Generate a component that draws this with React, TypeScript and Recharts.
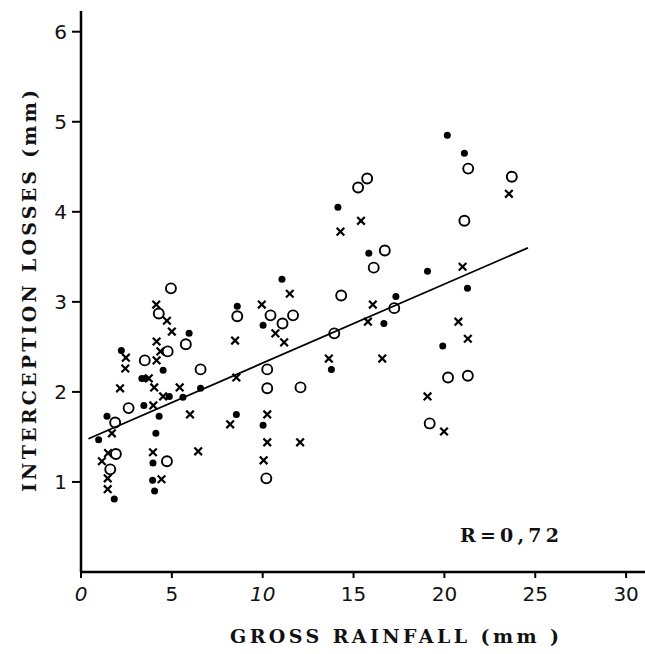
import React from 'react';
import { ScatterChart, Scatter, XAxis, YAxis, Customized } from 'recharts';

// Gross rainfall (mm), interception losses (mm)
const filledDots: [number, number][] = [
  [0.97, 1.47], [1.43, 1.73], [1.83, 0.81], [2.22, 2.46], [3.35, 2.15], [3.55, 2.15],
  [3.46, 1.85], [3.96, 1.21], [3.94, 1.02], [4.05, 0.9], [4.12, 1.54], [4.3, 1.73],
  [4.52, 2.24], [4.86, 1.95], [5.61, 1.94], [5.95, 2.65], [6.58, 2.04], [8.6, 2.95],
  [8.55, 1.75], [10.02, 2.74], [10.02, 1.63], [11.06, 3.25], [13.78, 2.25], [14.14, 4.05],
  [15.84, 3.54], [16.67, 2.76], [17.33, 3.06], [19.07, 3.34], [19.91, 2.51], [20.16, 4.85],
  [21.1, 4.65], [21.27, 3.15],
];

const openDots: [number, number][] = [
  [1.61, 1.14], [1.92, 1.31], [1.88, 1.66], [2.62, 1.82], [3.51, 2.35], [4.28, 2.87],
  [4.77, 2.45], [4.73, 1.23], [4.95, 3.15], [5.77, 2.53], [6.58, 2.25], [8.6, 2.84],
  [10.25, 2.25], [10.25, 2.04], [10.2, 1.04], [10.43, 2.85], [11.09, 2.76], [11.67, 2.85],
  [12.08, 2.05], [13.94, 2.65], [14.32, 3.07], [15.25, 4.27], [15.75, 4.37], [16.11, 3.38],
  [16.72, 3.57], [17.24, 2.93], [19.19, 1.65], [20.2, 2.16], [21.1, 3.9], [21.31, 4.48],
  [21.29, 2.18], [23.71, 4.39],
];

const crossDots: [number, number][] = [
  [1.15, 1.23], [1.47, 1.04], [1.47, 0.92], [1.49, 1.32], [1.7, 1.54], [2.15, 2.04],
  [2.44, 2.26], [2.47, 2.38], [3.73, 2.15], [3.96, 1.33], [3.98, 1.85], [4.03, 2.05],
  [4.14, 2.97], [4.16, 2.56], [4.16, 2.35], [4.37, 2.45], [4.43, 1.03], [4.52, 1.95],
  [4.73, 2.79], [5.0, 2.67], [5.43, 2.05], [6.0, 1.75], [6.45, 1.34], [8.21, 1.64],
  [8.48, 2.57], [8.55, 2.16], [9.95, 2.97], [10.05, 1.24], [10.25, 1.75], [10.25, 1.44],
  [10.7, 2.65], [11.18, 2.55], [11.49, 3.09], [12.06, 1.44], [13.64, 2.37], [14.28, 3.78],
  [15.41, 3.9], [15.79, 2.78], [16.06, 2.97], [16.58, 2.37], [19.07, 1.95], [19.98, 1.56],
  [20.77, 2.78], [21.0, 3.39], [21.29, 2.59], [23.55, 4.2],
];

const regressionLine: [number, number][] = [[0.41, 1.48], [24.6, 3.6]];

const xTicks = [0, 5, 10, 15, 20, 25, 30];
const yTicks = [1, 2, 3, 4, 5, 6];
const italicXTicks = [0, 10];

const xTitle = 'GROSS  RAINFALL (mm )';
const yTitle = 'INTERCEPTION  LOSSES (mm)';
const rText = 'R=0,72';

const toObj = (arr: [number, number][]) => arr.map(([x, y]) => ({ x, y }));

const FilledShape = (p: any) => <circle cx={p.cx} cy={p.cy} r={3.5} fill="#000" />;
const OpenShape = (p: any) => (
  <circle cx={p.cx} cy={p.cy} r={5} fill="none" stroke="#000" strokeWidth={1.9} />
);
const CrossShape = (p: any) => {
  const s = 3.8;
  return (
    <g stroke="#000" strokeWidth={2.2}>
      <line x1={p.cx - s} y1={p.cy - s} x2={p.cx + s} y2={p.cy + s} />
      <line x1={p.cx - s} y1={p.cy + s} x2={p.cx + s} y2={p.cy - s} />
    </g>
  );
};
const NoShape = () => <g />;

const tickFont = "'DejaVu Sans', sans-serif";
const titleFont = "'DejaVu Serif', serif";

const XTick = (p: any) => {
  const v = p.payload.value;
  return (
    <text x={p.x} y={p.y} dy="0.71em" textAnchor="middle" fontFamily={tickFont} fontSize={20}
      fill="#111" fontStyle={italicXTicks.includes(v) ? 'italic' : 'normal'}>
      {v}
    </text>
  );
};
const YTick = (p: any) => (
  <text x={p.x} y={p.y} dy="0.35em" textAnchor="end" fontFamily={tickFont} fontSize={20} fill="#111">
    {p.payload.value}
  </text>
);

const Texts = () => (
  <g>
    <text x={230} y={643} textLength={329} lengthAdjust="spacing" fontFamily={titleFont}
      fontWeight="bold" fontSize={19} fill="#111">{xTitle}</text>
    <text x={36} y={291} transform="rotate(-90, 36, 291)" textAnchor="middle" textLength={402}
      lengthAdjust="spacing" fontFamily={titleFont} fontWeight="bold" fontSize={19} fill="#111">{yTitle}</text>
    <text x={460} y={542} textLength={99} lengthAdjust="spacing" fontFamily={titleFont}
      fontWeight="bold" fontSize={19} fill="#111">{rText}</text>
  </g>
);

export default function App() {
  return (
    <div style={{ position: 'absolute', left: 0, top: 0, background: '#fff' }}>
      <ScatterChart width={645} height={654} margin={{ top: 11, right: 0, bottom: 0, left: 0 }}>
        <XAxis type="number" dataKey="x" domain={[0, 31.04]} ticks={xTicks} height={82}
          tickSize={6} tickMargin={9} allowDataOverflow
          axisLine={{ stroke: '#000', strokeWidth: 2.5 }} tickLine={{ stroke: '#000', strokeWidth: 2 }}
          tick={<XTick />} />
        <YAxis type="number" dataKey="y" domain={[0, 6.23]} ticks={yTicks} width={81}
          tickSize={9} tickMargin={5} allowDataOverflow
          axisLine={{ stroke: '#000', strokeWidth: 2.5 }} tickLine={{ stroke: '#000', strokeWidth: 2 }}
          tick={<YTick />} />
        <Scatter data={toObj(regressionLine)} line={{ stroke: '#000', strokeWidth: 1.8 }}
          shape={<NoShape />} isAnimationActive={false} />
        <Scatter data={toObj(filledDots)} shape={<FilledShape />} isAnimationActive={false} />
        <Scatter data={toObj(openDots)} shape={<OpenShape />} isAnimationActive={false} />
        <Scatter data={toObj(crossDots)} shape={<CrossShape />} isAnimationActive={false} />
        <Customized component={<Texts />} />
      </ScatterChart>
    </div>
  );
}
